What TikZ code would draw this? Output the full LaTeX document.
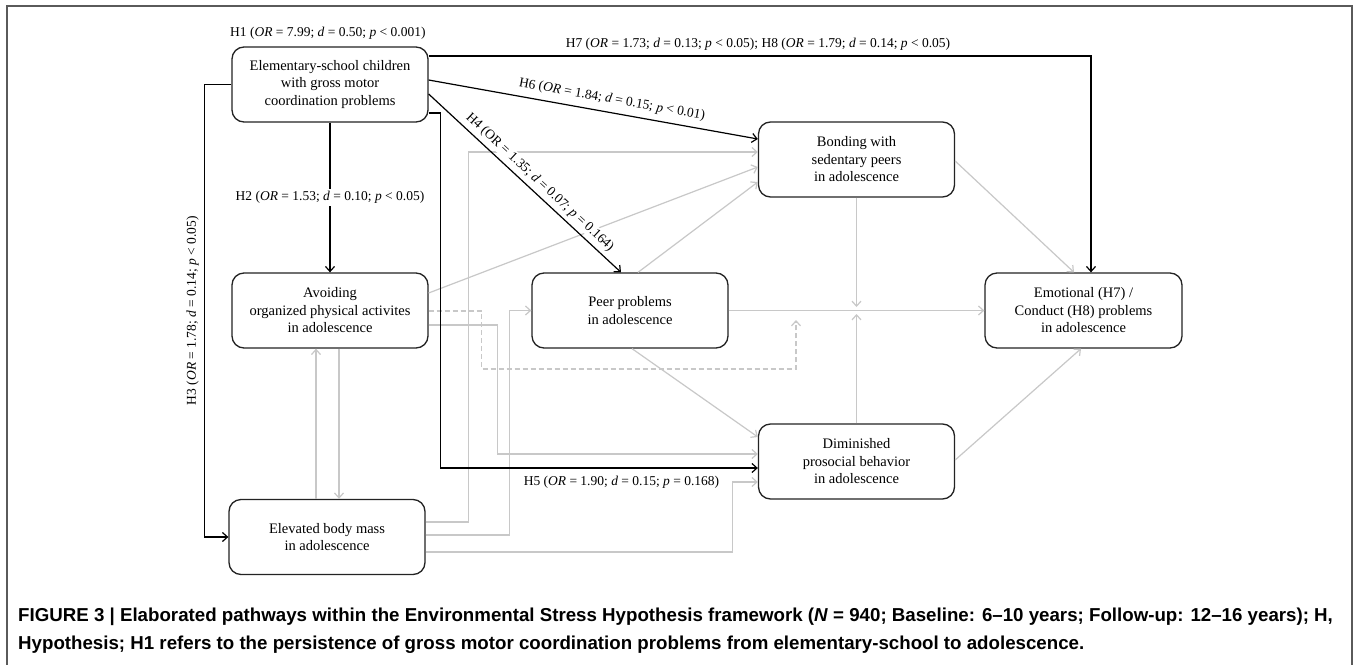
\documentclass[tikz,border=0pt]{standalone}
\usepackage{fontspec}
\setmainfont{Liberation Serif}
\newfontfamily\capfont{Liberation Sans}
\usetikzlibrary{arrows.meta,calc}

\definecolor{lgray}{RGB}{200,200,200}
\definecolor{framegray}{RGB}{90,90,90}
\definecolor{boxline}{RGB}{35,35,35}

\tikzset{
  box/.style={draw=boxline, line width=1.3pt, rounded corners=12pt, minimum width=196pt, minimum height=75pt, align=center, font=\fontsize{14.5}{17.5}\selectfont, inner sep=0pt},
  lbl/.style={font=\fontsize{13.5}{16}\selectfont, inner sep=2pt},
  blk/.style={draw=black, line width=1.2pt, -{Straight Barb[length=5pt,width=9pt]}},
  gry/.style={draw=lgray, line width=1.2pt, -{Straight Barb[length=5pt,width=9pt]}},
  grydash/.style={gry, dash pattern=on 5pt off 3pt},
  captxt/.style={anchor=base west, inner sep=0pt, font=\capfont\bfseries\fontsize{18.7}{28}\selectfont},
}

\begin{document}
\begin{tikzpicture}[x=1pt,y=-1pt]
\useasboundingbox (0,0) rectangle (1360,664);
\fill[white] (0,0) rectangle (1360,664);
\draw[framegray, line width=1.5pt] (7,675) -- (7,6) -- (1352,6) -- (1352,675);

% boxes
\node[box] (A) at (330,84.5) {Elementary-school children\\with gross motor\\coordination problems};
\node[box] (B) at (330,310.5) {Avoiding\\organized physical activites\\in adolescence};
\node[box] (C) at (327,537) {Elevated body mass\\in adolescence};
\node[box] (D) at (630,310.5) {Peer problems\\in adolescence};
\node[box] (E) at (856.5,159.5) {Bonding with\\sedentary peers\\in adolescence};
\node[box] (F) at (856.5,461.5) {Diminished\\prosocial behavior\\in adolescence};
\node[box, minimum width=197pt] (G) at (1083.5,310.5) {Emotional (H7) /\\Conduct (H8) problems\\in adolescence};

\coordinate (modc) at (796,369);
\coordinate (modtip) at (796,320);
\coordinate (modE) at (856.5,307);
\coordinate (modF) at (856.5,314);

% gray connectors
\draw[gry] ([yshift=15pt]C.east) -- ++(43,0) |- ([yshift=7.5pt]E.west);
\draw[gry] ([yshift=2pt]C.east) -- ++(84,0) |- (D.west);
\draw[gry] ([yshift=-15pt]C.east) -- ++(307,0) |- ([yshift=-20.5pt]F.west);
\draw[gry] ([yshift=17.5pt]B.east) -- ([yshift=-7.5pt]E.west);
\draw[grydash] ([yshift=-0.5pt]B.east) -- ++(53,0) |- (modc) -- (modtip);
\draw[gry] ([yshift=-14.5pt]B.east) -- ++(69,0) |- ([yshift=7.5pt]F.west);
\draw[gry] ([xshift=8pt]D.north) -- ([yshift=-22.5pt]E.west);
\draw[gry] (D.east) -- (G.west);
\draw[gry] ([xshift=2pt]D.south) -- ([yshift=24.5pt]F.west);
\draw[gry] ([yshift=-1.5pt]E.east) -- ([xshift=-9.5pt]G.north);
\draw[gry] ([yshift=1.5pt]F.east) -- ([xshift=-2.5pt]G.south);
\draw[gry] (E.south) -- (modE);
\draw[gry] (F.north) -- (modF);
\draw[gry] ([xshift=-11pt]C.north) -- ([xshift=-14pt]B.south);
\draw[gry] ([xshift=9pt]B.south) -- ([xshift=12pt]C.north);

% black connectors
\node[lbl, anchor=west] (h1) at (228,33) {H1 (\textit{OR} = 7.99; \textit{d} = 0.50; \textit{p} < 0.001)};
\draw[blk] ([yshift=28.5pt]A.east) -| ([xshift=7.5pt]G.north);
\node[lbl, anchor=base, inner sep=0pt] (h78) at (758,47) {H7 (\textit{OR} = 1.73; \textit{d} = 0.13; \textit{p} < 0.05); H8 (\textit{OR} = 1.79; \textit{d} = 0.14; \textit{p} < 0.05)};
\draw[blk] ([yshift=4.5pt]A.east) -- ([yshift=20.5pt]E.west)
  node[lbl, pos=0.55, sloped, above=4pt] {H6 (\textit{OR} = 1.84; \textit{d} = 0.15; \textit{p} < 0.01)};
\draw[blk] ([yshift=-9.5pt]A.east) -- ([xshift=-9pt]D.north)
  node[lbl, pos=0.54, sloped, above=3pt, fill=white, inner sep=1pt] {H4 (OR = 1.35; \textit{d} = 0.07; \textit{p} = 0.164)};
\draw[blk] (A.south) -- (B.north)
  node[lbl, midway, fill=white] {H2 (\textit{OR} = 1.53; \textit{d} = 0.10; \textit{p} < 0.05)};
\draw[blk] (A.west) -- ([xshift=-27pt]A.west) |- (C.west)
  node[lbl, pos=0.25, rotate=90, anchor=south, inner sep=5pt] {H3 (\textit{OR} = 1.78; \textit{d} = 0.14; \textit{p} < 0.05)};
\draw[blk] ([yshift=-28.5pt]A.east) -- ++(12,0) |- ([yshift=-6.5pt]F.west)
  node[lbl, pos=0.785, below=6pt] {H5 (\textit{OR} = 1.90; \textit{d} = 0.15; \textit{p} = 0.168)};

% caption
\node[captxt] (cap1) at (18,621) {FIGURE 3 | Elaborated pathways within the Environmental Stress Hypothesis framework (\textit{N} = 940; Baseline: 6–10 years; Follow-up: 12–16 years); H,};
\node[captxt] (cap2) at (18,649) {Hypothesis; H1 refers to the persistence of gross motor coordination problems from elementary-school to adolescence.};
\end{tikzpicture}
\end{document}
